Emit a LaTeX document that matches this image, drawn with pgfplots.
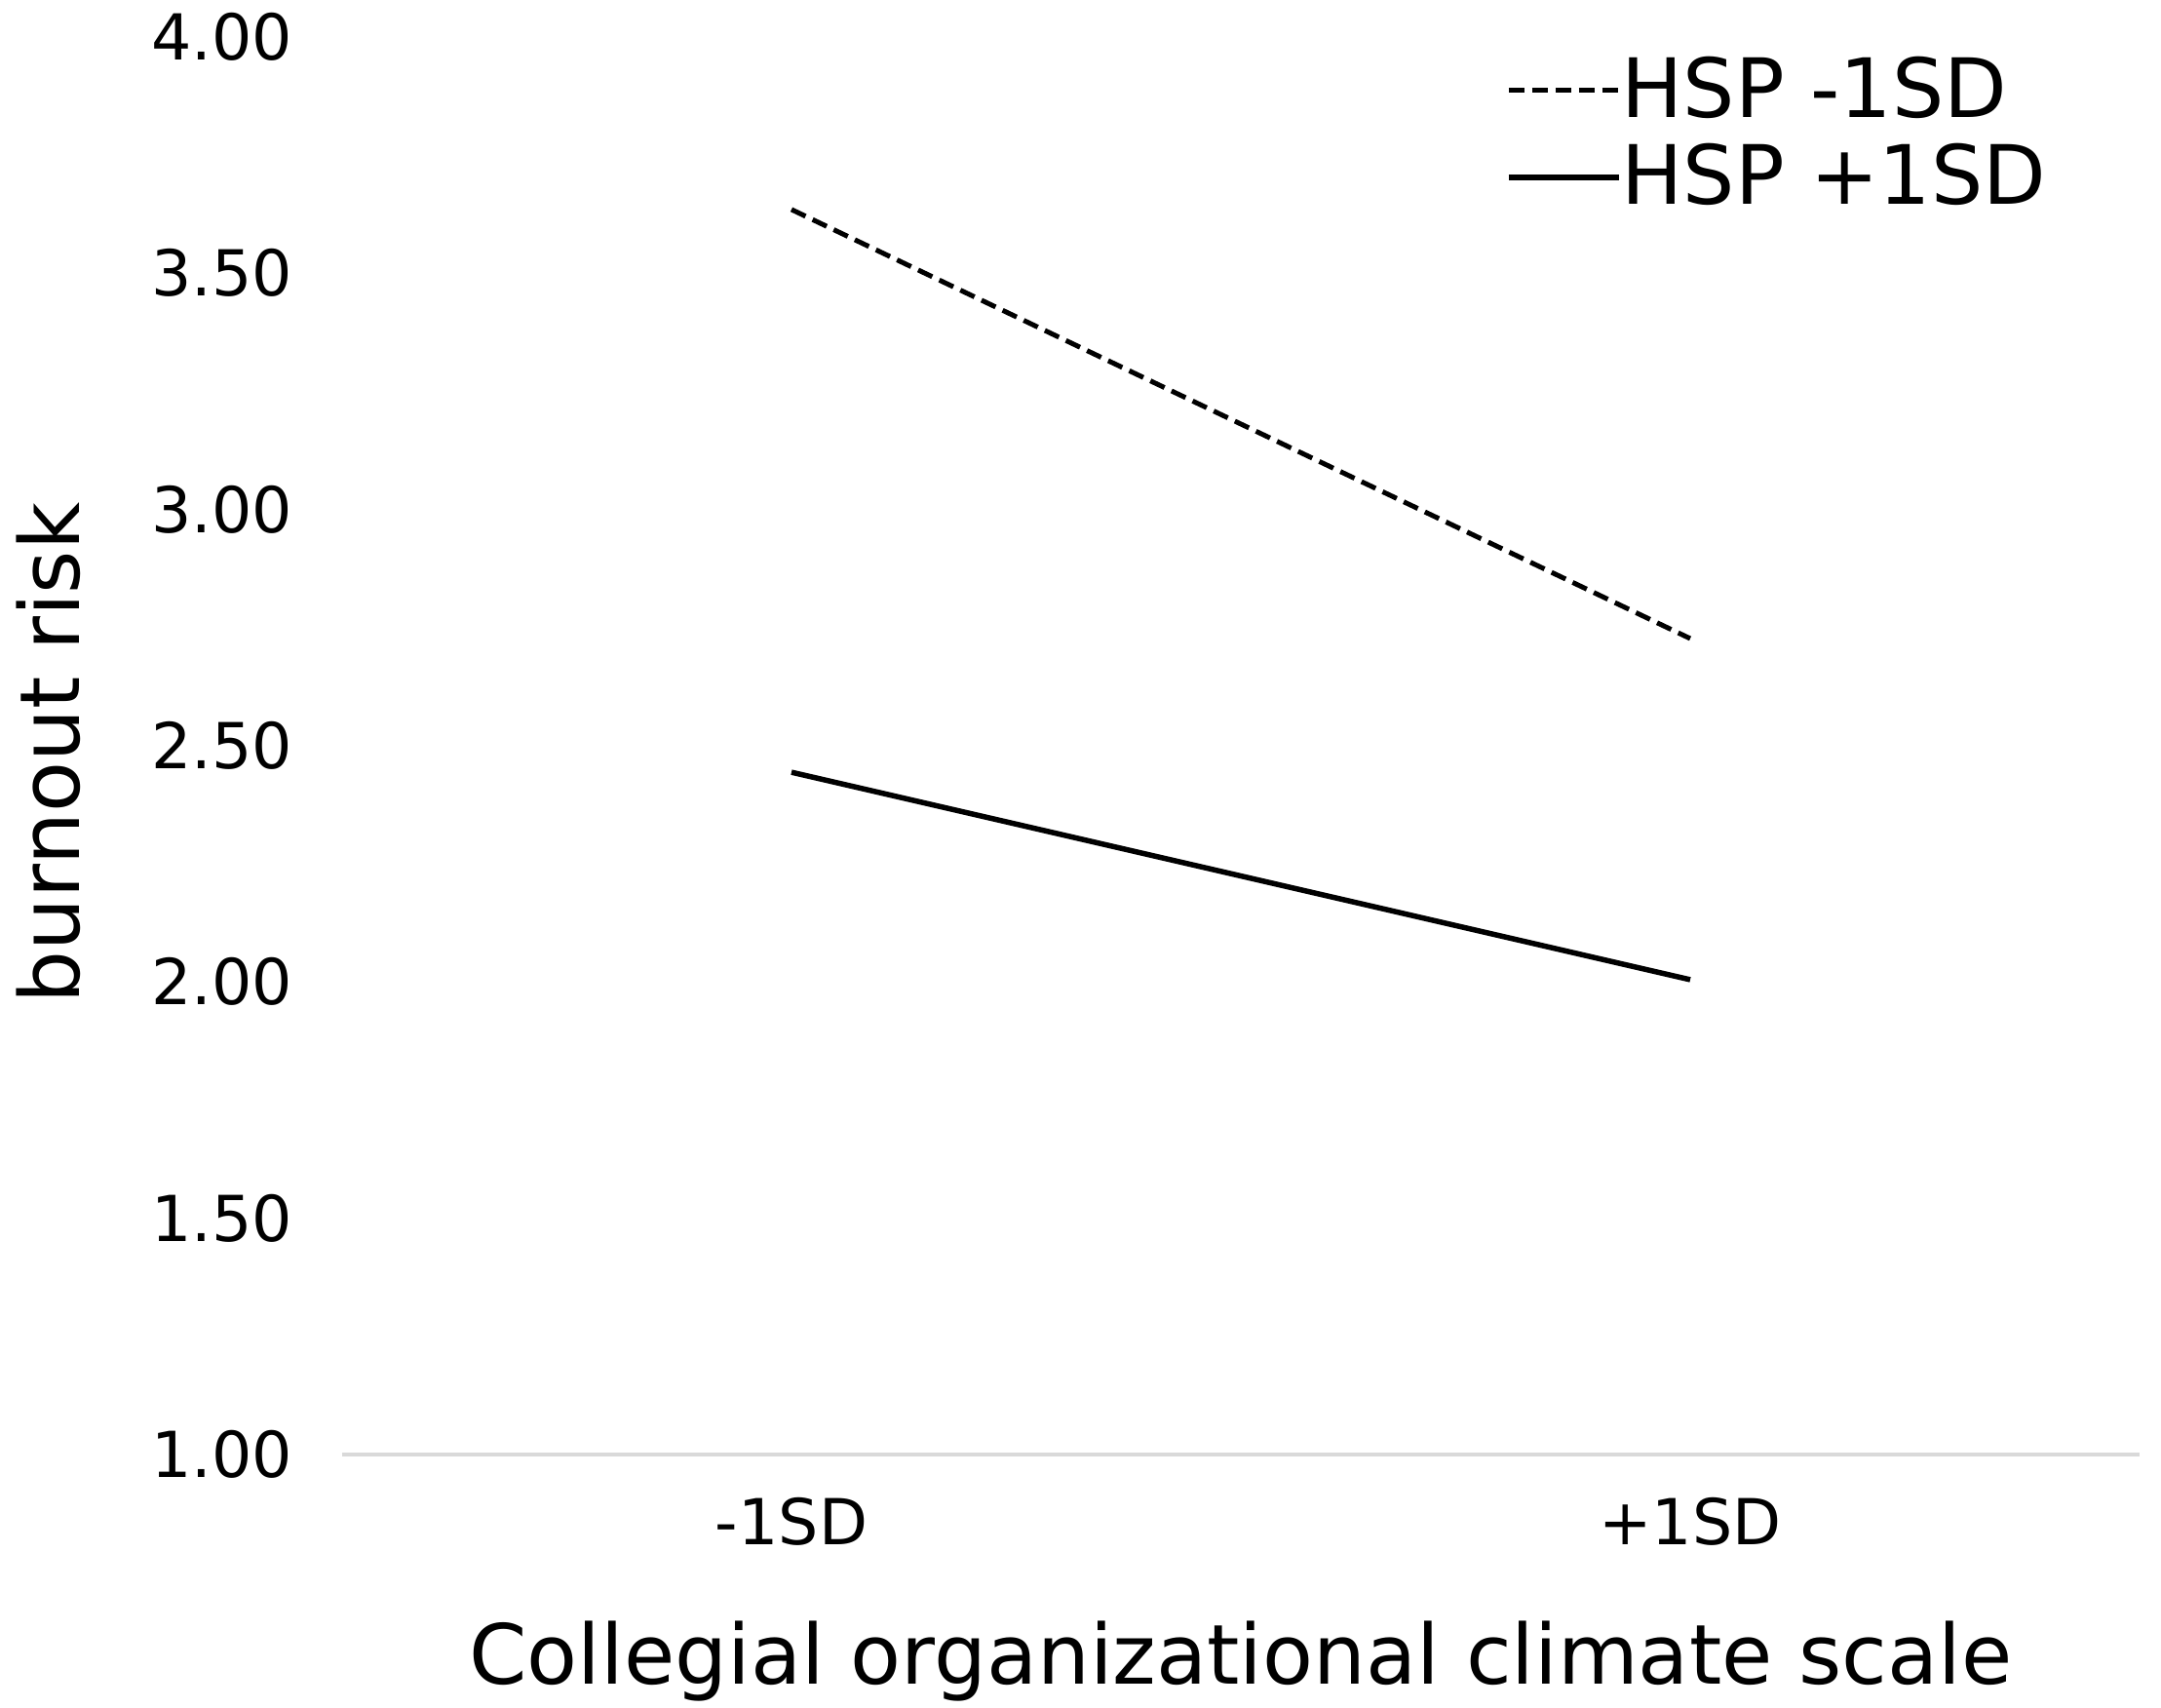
\documentclass[border=0pt]{standalone}
\usepackage{fontspec}
\setmainfont{DejaVu Sans}
\usepackage{pgfplots}
\pgfplotsset{compat=1.18}
\begin{document}
\begin{tikzpicture}
\begin{axis}[
  scale only axis,
  width=368.8bp, height=290.8bp,
  xmin=-0.5, xmax=1.5, ymin=1, ymax=4,
  axis x line*=bottom, axis y line*=left,
  x axis line style={draw=gray!30, line width=0.7bp},
  y axis line style={draw=none},
  major tick length=0pt,
  xtick={0,1}, xticklabels={-1SD,+1SD},
  ytick={1,1.5,2,2.5,3,3.5,4},
  yticklabel={\pgfmathprintnumber[fixed,fixed zerofill,precision=2,assume math mode=true]{\tick}},
  /pgf/number format/assume math mode=true,
  tick label style={font=\fontsize{13bp}{15bp}\selectfont, text=black},
  yticklabel style={anchor=east, inner sep=0pt, xshift=-10bp},
  xticklabel style={anchor=center, inner sep=0pt, yshift=-13.8bp},
  xlabel={Collegial organizational climate scale},
  ylabel={burnout risk},
  label style={font=\fontsize{17bp}{19bp}\selectfont},
  xlabel style={at={(axis description cs:0.5,-0.1623)}, anchor=base, inner sep=0pt},
  ylabel style={at={(axis description cs:-0.1459,0.495)}, anchor=base, rotate=0, inner sep=0pt},
  legend cell align=left,
  legend image code/.code={\draw[#1] (0bp,0bp) -- (22.6bp,0bp);},
  legend style={at={(rel axis cs:0.647,1)}, anchor=north west, yshift=-3.8bp,
    draw=none, fill=none, inner sep=0pt, column sep=0bp, row sep=3.9bp,
    font=\fontsize{16.8bp}{18bp}\selectfont,
    nodes={inner sep=0pt}},
  clip=false,
]
\addplot[black, line width=1bp, dash pattern=on 3.2bp off 1.6bp] coordinates {(0,3.635) (1,2.727)};
\addlegendentry{HSP -1SD}
\addplot[black, line width=1.1bp] coordinates {(0,2.444) (1,2.005)};
\addlegendentry{HSP +1SD}
\coordinate (O) at (rel axis cs:0,0);
\end{axis}
\pgfresetboundingbox
\path[use as bounding box] ([shift={(-70.2bp,-52bp)}]O) rectangle ++(443.4bp,350.4bp);
\end{tikzpicture}
\end{document}
